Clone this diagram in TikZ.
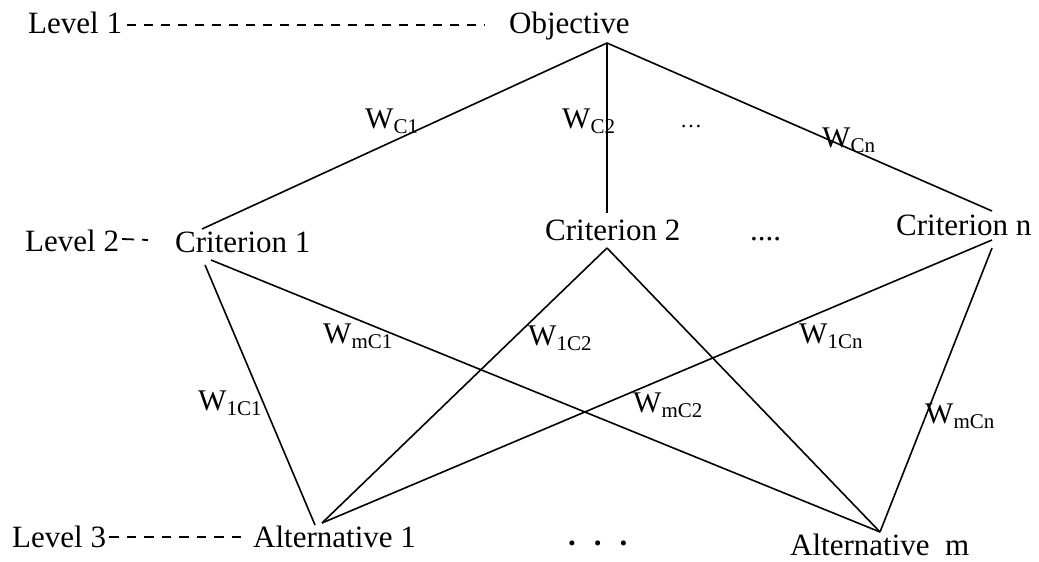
\documentclass[tikz,border=0pt]{standalone}
\usepackage{fontspec}
\setmainfont{Liberation Serif}
% weight symbol W with a lowered subscript
\newcommand{\wsub}[1]{W\raisebox{-5pt}{\fontsize{21}{21}\selectfont #1}}
\begin{document}
\begin{tikzpicture}[x=1pt,y=-1pt,
  lbl/.style={inner sep=0pt, anchor=base west, font=\fontsize{31}{36}\selectfont},
  wl/.style={inner sep=0pt, anchor=base west, font=\fontsize{30}{34}\selectfont},
  link/.style={line width=1.6pt},
  lvl/.style={line width=1.8pt, dash pattern=on 9pt off 8pt}]
\useasboundingbox (0,0) rectangle (1039,562);

% level captions and hierarchy nodes
\node[lbl] (lv1) at (28,33) {Level 1};
\node[lbl] (obj) at (509,33) {Objective};
\node[lbl] (lv2) at (25,251) {Level 2};
\node[lbl] (c1) at (175,252) {Criterion 1};
\node[lbl] (c2) at (545,240) {Criterion 2};
\node[lbl] (dots2) at (750,240) {....};
\node[lbl] (cn) at (896,235) {Criterion n};
\node[lbl] (lv3) at (12,547) {Level 3};
\node[lbl] (a1) at (253,547) {Alternative 1};
\node[lbl] (dots3) at (568,545) {\textbf{.\hspace{18pt}.\hspace{18pt}.}};
\node[lbl] (am) at (790,555) {Alternative\ \ m};

% dashed leaders from level captions
\draw[lvl] ([shift={(5,-8)}]lv1.base east) -- ([shift={(-24,-8)}]obj.base west);
\draw[lvl, dash pattern=on 12pt off 8pt] ([shift={(3,-12)}]lv2.base east) -- ([shift={(-27,-12)}]c1.base west);
\draw[lvl, dash pattern=on 9.5pt off 8pt] ([shift={(3,-10)}]lv3.base east) -- ([shift={(-6,-10)}]a1.base west);

% connector end points
\coordinate (obj-s) at (607,43);
\coordinate (c1-n) at (202,229);
\coordinate (c2-n) at (607,213);
\coordinate (cn-n) at (992,211);
\coordinate (c1-s1) at (205,265);
\coordinate (c1-s2) at (211,260);
\coordinate (c2-s) at (607,248);
\coordinate (cn-s1) at (992,240);
\coordinate (cn-s2) at (992,248);
\coordinate (a1-n1) at (315,525);
\coordinate (a1-n2) at (322,523);
\coordinate (am-n) at (880,532);

% objective to criteria
\draw[link] (obj-s) -- (c1-n);
\draw[link] (obj-s) -- (c2-n);
\draw[link] (obj-s) -- (cn-n);
% criteria to alternatives
\draw[link] (c1-s1) -- (a1-n1);
\draw[link] (c1-s2) -- (am-n);
\draw[link] (c2-s) -- (a1-n2);
\draw[link] (c2-s) -- (am-n);
\draw[link] (cn-s1) -- (a1-n2);
\draw[link] (cn-s2) -- (am-n);

% weights
\node[wl] (wc1) at (365,128) {\wsub{C1}};
\node[wl] (wc2) at (562,128) {\wsub{C2}};
\node[inner sep=0pt, anchor=base west, font=\fontsize{22}{24}\selectfont] (dots1) at (680,127) {\ldots};
\node[wl] (wcn) at (822,147) {\wsub{Cn}};
\node[wl] (wmc1) at (323,343) {\wsub{mC1}};
\node[wl] (w1c2) at (528,345) {\wsub{1C2}};
\node[wl] (w1c1) at (198,410) {\wsub{1C1}};
\node[wl] (w1cn) at (799,343) {\wsub{1Cn}};
\node[wl] (wmc2) at (633,412) {\wsub{mC2}};
\node[wl] (wmcn) at (925,423) {\wsub{mCn}};
\end{tikzpicture}
\end{document}
